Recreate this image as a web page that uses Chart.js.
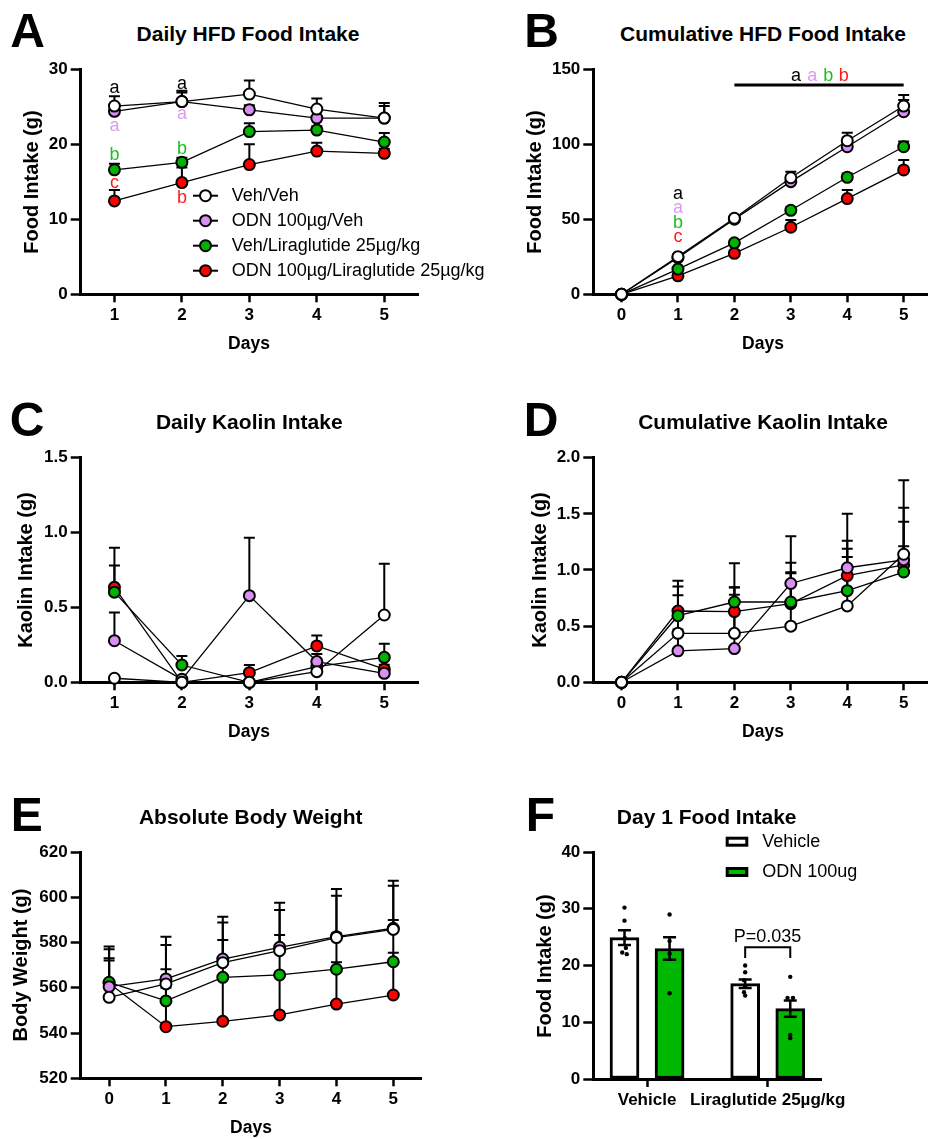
<!DOCTYPE html>
<html>
<head>
<meta charset="utf-8">
<script src="https://cdn.jsdelivr.net/npm/chart.js@4.4.1/dist/chart.umd.min.js"></script>
<style>
  body { margin: 0; width: 928px; height: 1139px; overflow: hidden; position: relative; background: #fff;
         font-family: "Liberation Sans", Arial, sans-serif; }
  canvas { position: absolute; }
  .lbl { position: absolute; font-weight: bold; white-space: nowrap; line-height: 1; color: #000; }
</style>
</head>
<body>
<canvas id="chartA"></canvas>
<canvas id="chartB"></canvas>
<canvas id="chartC"></canvas>
<canvas id="chartD"></canvas>
<canvas id="chartE"></canvas>
<canvas id="chartF"></canvas>
<script>
// ---- data ----
const days = [1, 2, 3, 4, 5];
const days0 = [0, 1, 2, 3, 4, 5];
const groups = ['Veh/Veh', 'ODN 100µg/Veh', 'Veh/Liraglutide 25µg/kg', 'ODN 100µg/Liraglutide 25µg/kg'];
const groupFills = ['#ffffff', '#d98ef2', '#00b300', '#ff0000'];
const letterColors = ['#000000', '#dd9cf0', '#1fbd1f', '#ff1a1a'];

// A: daily HFD food intake (g), mean and SEM per group
const dailyHfdMean = [
  [25.1, 25.7, 26.7, 24.7, 23.5],
  [24.4, 25.7, 24.6, 23.5, 23.5],
  [16.6, 17.6, 21.7, 21.9, 20.3],
  [12.45, 14.9, 17.3, 19.1, 18.8]
];
const dailyHfdSem = [
  [1.3, 1.45, 1.8, 1.4, 2.0],
  [0.9, 1.2, 0.6, 1.0, 1.6],
  [0.8, 0.6, 1.1, 0.5, 1.2],
  [1.45, 2.0, 2.7, 1.1, 0.6]
];
// B: cumulative HFD food intake (g)
const cumHfdMean = [
  [0, 25.1, 50.7, 77.7, 102.4, 125.5],
  [0, 24.4, 50.1, 75.1, 98.4, 121.7],
  [0, 16.8, 34.3, 56.0, 78.0, 98.4],
  [0, 12.3, 27.3, 44.7, 63.8, 82.9]
];
const cumHfdSem = [
  [0, 1.3, 1.6, 4.0, 5.3, 7.4],
  [0, 0.9, 1.5, 3.0, 4.2, 7.8],
  [0, 0.8, 1.5, 2.0, 2.5, 3.4],
  [0, 1.4, 2.0, 4.8, 5.7, 6.6]
];
// C: daily kaolin intake (g)
const dailyKaolinMean = [
  [0.027, 0, 0, 0.071, 0.448],
  [0.277, 0.02, 0.577, 0.138, 0.06],
  [0.6, 0.115, 0, 0.104, 0.166],
  [0.632, 0, 0.064, 0.242, 0.087]
];
const dailyKaolinSem = [
  [0.01, 0, 0, 0.02, 0.342],
  [0.187, 0.01, 0.386, 0.05, 0.03],
  [0.177, 0.06, 0, 0.04, 0.09],
  [0.264, 0, 0.051, 0.07, 0.03]
];
// D: cumulative kaolin intake (g)
const cumKaolinMean = [
  [0, 0.436, 0.436, 0.5, 0.68, 1.14],
  [0, 0.28, 0.30, 0.88, 1.02, 1.09],
  [0, 0.593, 0.715, 0.715, 0.816, 0.982],
  [0, 0.635, 0.63, 0.70, 0.95, 1.045]
];
const cumKaolinSem = [
  [0, 0.34, 0.41, 0.48, 0.58, 0.66],
  [0, 0.19, 0.48, 0.42, 0.48, 0.34],
  [0, 0.26, 0.13, 0.35, 0.30, 0.23],
  [0, 0.27, 0.43, 0.27, 0.24, 0.51]
];
// E: absolute body weight (g)
const bodyWeightMean = [
  [555.8, 561.7, 571.1, 576.4, 582.2, 585.8],
  [560.5, 563.9, 572.7, 577.9, 582.6, 586.3],
  [562.4, 554.2, 564.6, 565.7, 568.2, 571.5],
  [562.0, 542.8, 545.2, 548.0, 552.8, 556.8]
];
const bodyWeightSem = [
  [17.2, 6.5, 10, 6.9, 1.8, 4.2],
  [17.7, 18.7, 18.7, 19.7, 21.1, 21],
  [14.6, 24.7, 24.2, 28.7, 32.5, 33.6],
  [10, 17.2, 20, 17, 18.5, 18.7]
];
// F: day 1 food intake (g)
const fCategories = ['Vehicle', 'Liraglutide 25µg/kg'];
const fSeries = ['Vehicle', 'ODN 100ug'];
const fVehicleMean = [24.9, 16.8];
const fVehicleSem = [1.3, 0.75];
const fOdnMean = [23.0, 12.4];
const fOdnSem = [2.0, 1.45];
const fVehVehDots = [30.2, 27.9, 24.8, 23.1, 22.3, 22.0];
const fVehOdnDots = [29.0, 24.3, 22.1, 15.1];
const fLiraVehDots = [20.0, 18.8, 17.4, 16.3, 15.3, 14.7];
const fLiraOdnDots = [18.0, 14.3, 14.3, 7.75, 7.2];
const fVehVehJitter = [0, 0, 0.02, 0.06, -0.1, 0.1];
const fVehOdnJitter = [0, 0, 0, 0];
const fLiraVehJitter = [0, 0, -0.05, 0, -0.05, 0];
const fLiraOdnJitter = [0, -0.12, 0.12, 0, 0];
const fGreen = '#00b800';

// ---- layout ----
const Y_W = 60, X_H = 40;
const FONT = '"Liberation Sans", Arial, sans-serif';
Chart.defaults.font.family = FONT;
Chart.defaults.color = '#000';

// panel letters, titles, axis titles: [text, centerX, centerY, size, rotated]
const labels = [
  ['A', 27.7, 30.5, 48], ['B', 541.5, 30.5, 48], ['C', 27.2, 420, 48],
  ['D', 541.2, 420, 48], ['E', 26.7, 815.3, 48], ['F', 540.3, 815.3, 48],
  ['Daily HFD Food Intake', 248, 33, 21], ['Cumulative HFD Food Intake', 763, 33, 21],
  ['Daily Kaolin Intake', 249.3, 420.7, 21], ['Cumulative Kaolin Intake', 763, 420.7, 21],
  ['Absolute Body Weight', 250.7, 815.7, 21], ['Day 1 Food Intake', 706.7, 815.7, 21],
  ['Food Intake (g)', 30.8, 181.8, 20, true], ['Food Intake (g)', 534.3, 181.8, 20, true],
  ['Kaolin Intake (g)', 24.8, 569.7, 20, true], ['Kaolin Intake (g)', 539.4, 570, 20, true],
  ['Body Weight (g)', 19.8, 965.2, 20, true], ['Food Intake (g)', 543.8, 965.5, 20, true],
  ['Days', 249, 344, 17.5], ['Days', 763, 344, 17.5], ['Days', 249, 732, 17.5],
  ['Days', 763, 732, 17.5], ['Days', 251, 1128, 17.5]
];
labels.forEach(([t, x, y, s, rot]) => {
  const d = document.createElement('div');
  d.className = 'lbl';
  d.textContent = t;
  d.style.left = x + 'px';
  d.style.top = y + 'px';
  d.style.fontSize = s + 'px';
  d.style.transform = 'translate(-50%,-50%)' + (rot ? ' rotate(-90deg)' : '');
  document.body.appendChild(d);
});

function drawErrors(chart, o) {
  const ctx = chart.ctx, xs = chart.scales.x, ys = chart.scales.y;
  ctx.save();
  ctx.strokeStyle = '#000';
  ctx.lineWidth = o.errWidth || 2;
  const cap = o.cap || 11;
  (o.errors || []).forEach(s => {
    s.xs.forEach((xv, j) => {
      if (!s.e[j]) return;
      const X = xs.getPixelForValue(xv);
      const top = ys.getPixelForValue(s.ys[j] + s.e[j]);
      const bot = ys.getPixelForValue(s.both ? s.ys[j] - s.e[j] : s.ys[j]);
      ctx.beginPath();
      ctx.moveTo(X, bot); ctx.lineTo(X, top);
      ctx.moveTo(X - cap / 2, top); ctx.lineTo(X + cap / 2, top);
      if (s.both) { ctx.moveTo(X - cap / 2, bot); ctx.lineTo(X + cap / 2, bot); }
      ctx.stroke();
    });
  });
  ctx.restore();
}

const extras = {
  id: 'extras',
  beforeDatasetsDraw(chart, args, o) { if (!o.errorsOnTop) drawErrors(chart, o); },
  afterDatasetsDraw(chart, args, o) {
    if (o.errorsOnTop) drawErrors(chart, o);
    const ctx = chart.ctx, xs = chart.scales.x, ys = chart.scales.y, ca = chart.chartArea;
    ctx.save();
    (o.segments || []).forEach(s => {
      ctx.strokeStyle = '#000';
      ctx.lineWidth = s.w;
      ctx.beginPath();
      s.pts.forEach((p, i) => {
        const X = xs.getPixelForValue(p[0]), Y = ys.getPixelForValue(p[1]);
        if (i) ctx.lineTo(X, Y); else ctx.moveTo(X, Y);
      });
      ctx.stroke();
    });
    ctx.textAlign = 'center';
    ctx.textBaseline = 'middle';
    (o.texts || []).forEach(t => {
      ctx.fillStyle = t.c || '#000';
      ctx.font = (t.s || 18) + 'px ' + FONT;
      ctx.fillText(t.t, xs.getPixelForValue(t.x), ys.getPixelForValue(t.y));
    });
    const lg = o.legend;
    if (lg) {
      ctx.font = '18px ' + FONT;
      ctx.textAlign = 'left';
      lg.labels.forEach((name, i) => {
        const x0 = ca.left + lg.dx, y0 = ca.top + lg.dy + lg.gap * i;
        ctx.strokeStyle = '#000';
        if (lg.type === 'line') {
          ctx.lineWidth = 2;
          ctx.beginPath(); ctx.moveTo(x0, y0); ctx.lineTo(x0 + 25, y0); ctx.stroke();
          ctx.beginPath(); ctx.arc(x0 + 12.5, y0, 5.5, 0, Math.PI * 2);
          ctx.fillStyle = lg.fills[i]; ctx.fill(); ctx.stroke();
          ctx.fillStyle = '#000';
          ctx.fillText(name, x0 + 38.7, y0);
        } else {
          ctx.lineWidth = 3;
          ctx.fillStyle = lg.fills[i];
          ctx.fillRect(x0 + 1.5, y0 + 1.5, 19.6, 7);
          ctx.strokeRect(x0 + 1.5, y0 + 1.5, 19.6, 7);
          ctx.fillStyle = '#000';
          ctx.fillText(name, x0 + 36.6, y0 + 5);
        }
      });
    }
    ctx.restore();
  }
};

function axisCommon() {
  return {
    grid: { drawOnChartArea: false, drawTicks: true, offset: false, tickColor: '#000', tickWidth: 2.5 },
    border: { display: true, color: '#000', width: 3 }
  };
}
function xScale(min, max, tickVals, cb) {
  const s = Object.assign(axisCommon(), {
    type: 'linear', min, max, offset: false,
    afterBuildTicks: sc => { sc.ticks = tickVals.map(v => ({ value: v })); },
    afterFit: sc => { sc.height = X_H; },
    ticks: { color: '#000', font: { size: 17, weight: 'bold' }, padding: 3, autoSkip: false, maxRotation: 0,
             callback: cb || (v => v) }
  });
  s.grid.tickLength = 8;
  return s;
}
function yScale(min, max, step, dec) {
  const s = Object.assign(axisCommon(), {
    type: 'linear', min, max,
    afterFit: sc => { sc.width = Y_W; },
    ticks: { color: '#000', font: { size: 17, weight: 'bold' }, padding: 3, stepSize: step,
             callback: v => v.toFixed(dec) }
  });
  s.grid.tickLength = 10;
  return s;
}

function lineSets(xv, means) {
  return means.map((m, i) => ({
    type: 'line',
    label: groups[i],
    data: m.map((v, j) => ({ x: xv[j], y: v })),
    borderColor: '#000', borderWidth: 1.3, tension: 0,
    pointRadius: 5.5, pointBorderWidth: 2, pointBorderColor: '#000',
    pointBackgroundColor: groupFills[i], clip: false
  }));
}
function errSets(xv, means, sems) {
  return means.map((m, i) => ({ xs: xv, ys: m, e: sems[i] }));
}

function makeChart(id, box, area, datasets, scales, extra) {
  const cv = document.getElementById(id);
  cv.width = box.w; cv.height = box.h;
  cv.style.left = box.x + 'px'; cv.style.top = box.y + 'px';
  return new Chart(cv, {
    data: { datasets },
    options: {
      responsive: false, animation: false, devicePixelRatio: 1,
      layout: { padding: {
        left: area.l - box.x - Y_W, top: area.t - box.y,
        right: box.x + box.w - area.r, bottom: box.y + box.h - area.b - X_H } },
      scales,
      plugins: { legend: { display: false }, tooltip: { enabled: false }, extras: extra }
    },
    plugins: [extras]
  });
}

// ---- A ----
const tA = [];
[[27.5, 22.5, 18.6, 14.8], [28.1, 24.0, 19.4, 12.9]].forEach((ys, k) => {
  ['a', 'a', 'b', k ? 'b' : 'c'].forEach((t, i) => {
    tA.push({ x: days[k], y: ys[i], t, c: letterColors[i] });
  });
});
makeChart('chartA', { x: 0, y: 45, w: 510, h: 300 }, { l: 80.7, t: 69.3, r: 418, b: 294.3 },
  lineSets(days, dailyHfdMean),
  { x: xScale(0.5, 5.5, days), y: yScale(0, 30, 10, 0) },
  { errors: errSets(days, dailyHfdMean, dailyHfdSem), texts: tA,
    legend: { type: 'line', dx: 112.3, dy: 126.4, gap: 25, labels: groups, fills: groupFills } });

// ---- B ----
const tB = [
  { x: 1, y: 66.7, t: 'a', c: letterColors[0] }, { x: 1, y: 57.3, t: 'a', c: letterColors[1] },
  { x: 1, y: 47.7, t: 'b', c: letterColors[2] }, { x: 1, y: 38, t: 'c', c: letterColors[3] },
  { x: 3.094, y: 145.5, t: 'a', c: letterColors[0] }, { x: 3.378, y: 145.5, t: 'a', c: letterColors[1] },
  { x: 3.662, y: 145.5, t: 'b', c: letterColors[2] }, { x: 3.94, y: 145.5, t: 'b', c: letterColors[3] }
];
makeChart('chartB', { x: 520, y: 45, w: 420, h: 300 }, { l: 593.3, t: 69.3, r: 931.9, b: 294.3 },
  lineSets(days0, cumHfdMean),
  { x: xScale(-0.5, 5.5, days0), y: yScale(0, 150, 50, 0) },
  { errors: errSets(days0, cumHfdMean, cumHfdSem), texts: tB,
    segments: [{ w: 3, pts: [[2, 139.5], [5, 139.5]] }] });

// ---- C ----
makeChart('chartC', { x: 0, y: 430, w: 464, h: 300 }, { l: 80.7, t: 457, r: 418, b: 682.3 },
  lineSets(days, dailyKaolinMean),
  { x: xScale(0.5, 5.5, days), y: yScale(0, 1.5, 0.5, 1) },
  { errors: errSets(days, dailyKaolinMean, dailyKaolinSem) });

// ---- D ----
makeChart('chartD', { x: 520, y: 430, w: 420, h: 300 }, { l: 593.3, t: 457.7, r: 931.9, b: 682.3 },
  lineSets(days0, cumKaolinMean),
  { x: xScale(-0.5, 5.5, days0), y: yScale(0, 2, 0.5, 1) },
  { errors: errSets(days0, cumKaolinMean, cumKaolinSem) });

// ---- E ----
makeChart('chartE', { x: 0, y: 825, w: 464, h: 300 }, { l: 80.7, t: 852, r: 421.7, b: 1078.3 },
  lineSets(days0, bodyWeightMean),
  { x: xScale(-0.5, 5.5, days0), y: yScale(520, 620, 20, 0) },
  { errors: errSets(days0, bodyWeightMean, bodyWeightSem) });

// ---- F ----
const fGroupX = [2.36, 7.66];
const fOff = 0.99;
const vehX = fGroupX.map(g => g - fOff);
const odnX = fGroupX.map(g => g + fOff);
const dots = [];
[[fVehVehDots, fVehVehJitter, vehX[0]], [fVehOdnDots, fVehOdnJitter, odnX[0]],
 [fLiraVehDots, fLiraVehJitter, vehX[1]], [fLiraOdnDots, fLiraOdnJitter, odnX[1]]].forEach(([vals, jit, cx]) => {
  vals.forEach((v, i) => dots.push({ x: cx + jit[i], y: v }));
});
const barStyle = { type: 'bar', grouped: false, barThickness: 29, borderWidth: 3, borderColor: '#000',
                   borderSkipped: false, order: 2 };
makeChart('chartF', { x: 520, y: 825, w: 420, h: 310 }, { l: 593.3, t: 852, r: 821, b: 1079 },
  [
    { type: 'scatter', data: dots, pointRadius: 2.2, pointBorderWidth: 0, pointBackgroundColor: '#000', order: 0, clip: false },
    Object.assign({ label: fSeries[0], data: fVehicleMean.map((v, i) => ({ x: vehX[i], y: v })), backgroundColor: '#fff' }, barStyle),
    Object.assign({ label: fSeries[1], data: fOdnMean.map((v, i) => ({ x: odnX[i], y: v })), backgroundColor: fGreen }, barStyle)
  ],
  { x: xScale(0, 10, fGroupX, (v, i) => fCategories[i]), y: yScale(0, 40, 10, 0) },
  { errorsOnTop: true, cap: 13, errWidth: 2.5,
    errors: [{ xs: vehX, ys: fVehicleMean, e: fVehicleSem, both: true },
             { xs: odnX, ys: fOdnMean, e: fOdnSem, both: true }],
    texts: [{ x: 7.65, y: 25.1, t: 'P=0.035', c: '#000', s: 18 }],
    segments: [{ w: 2, pts: [[vehX[1], 21.3], [vehX[1], 23.2], [odnX[1], 23.2], [odnX[1], 21.3]] }],
    legend: { type: 'box', dx: 132.4, dy: -15.3, gap: 30.3, labels: fSeries, fills: ['#fff', fGreen] } });
</script>
</body>
</html>
